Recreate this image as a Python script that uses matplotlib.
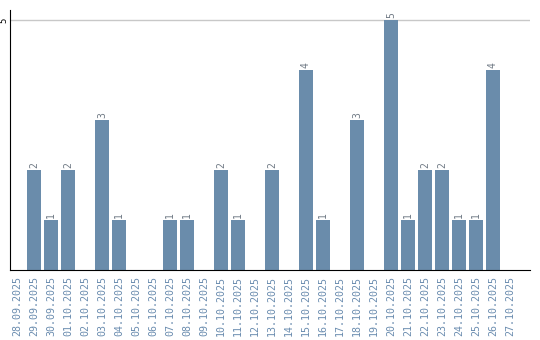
import matplotlib
matplotlib.use("Agg")
import matplotlib.pyplot as plt

dates = ["28.09.2025", "29.09.2025", "30.09.2025", "01.10.2025", "02.10.2025",
         "03.10.2025", "04.10.2025", "05.10.2025", "06.10.2025", "07.10.2025",
         "08.10.2025", "09.10.2025", "10.10.2025", "11.10.2025", "12.10.2025",
         "13.10.2025", "14.10.2025", "15.10.2025", "16.10.2025", "17.10.2025",
         "18.10.2025", "19.10.2025", "20.10.2025", "21.10.2025", "22.10.2025",
         "23.10.2025", "24.10.2025", "25.10.2025", "26.10.2025", "27.10.2025"]
counts = [0, 2, 1, 2, 0, 3, 1, 0, 0, 1,
          1, 0, 2, 1, 0, 2, 0, 4, 1, 0,
          3, 0, 5, 1, 2, 2, 1, 1, 4, 0]

bar_color = "#6a8cab"
label_color = "#6a8caf"

fig = plt.figure(figsize=(5.4, 3.4), dpi=100)
ax = fig.add_axes([10 / 540, 70 / 340, 520 / 540, 260 / 340])

x = list(range(len(dates)))
ax.bar(x, counts, width=0.82, color=bar_color, zorder=2)

# value labels above non-empty bars
for xi, c in zip(x, counts):
    if c > 0:
        ax.text(xi, c + 0.04, str(c), rotation=90, ha="center", va="bottom",
                fontsize=7, color="#707a85", family="DejaVu Sans Mono")

ax.set_xlim(-0.41, 30.18)
ax.set_ylim(0, 5.2)
ax.set_yticks([5])
ax.set_yticklabels(["5"], rotation=90, va="center", fontsize=6.5,
                   family="DejaVu Sans Mono")
ax.tick_params(axis="y", length=0, pad=1)
ax.set_xticks(x)
ax.set_xticklabels(dates, rotation=90, fontsize=7.2, color=label_color,
                   family="DejaVu Sans Mono")
ax.tick_params(axis="x", length=0, pad=4)

ax.grid(axis="y", color="#c8c8c8", linewidth=1, zorder=0)
ax.spines["top"].set_visible(False)
ax.spines["right"].set_visible(False)
ax.spines["left"].set_color("black")
ax.spines["bottom"].set_color("black")

plt.savefig("out.png", dpi=100)
plt.close()
